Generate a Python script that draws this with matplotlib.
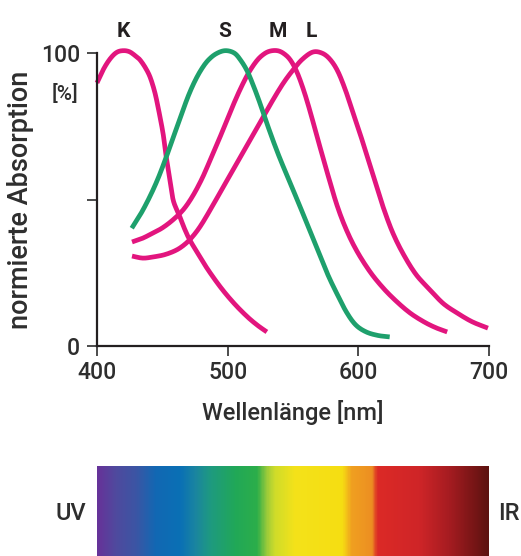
import numpy as np
import matplotlib
matplotlib.use("Agg")
import matplotlib.pyplot as plt
from matplotlib.colors import LinearSegmentedColormap

plt.rcParams['font.family'] = ['Roboto', 'DejaVu Sans']
plt.rcParams['font.weight'] = 'medium'
plt.rcParams['axes.labelweight'] = 'medium'

# Absorption curves of the photoreceptors (wavelength in nm, normalised absorption in %)
k_nm = [400, 405, 410, 415, 420, 425, 430, 433, 437, 440.6, 444, 446.7, 450.5, 452.5,
        454.3, 456, 458.2, 461, 463.5, 467, 471, 478, 485, 495, 505, 515, 523, 530]
k_val = [89.8, 94.5, 98, 100.2, 100.8, 100.4, 98.8, 97.6, 95, 91.8, 87, 81.6, 72.7, 66,
         61, 56, 50, 46.5, 44, 40, 36.2, 31, 26, 19.8, 14.5, 10, 7, 4.8]

s_nm = [426.6, 434, 441, 447, 453, 459, 465, 470, 475, 480, 485, 491, 498,
        505, 510, 515, 520, 525, 530, 535, 540, 547, 555, 565, 576, 584, 591,
        598, 606, 615, 624]
s_val = [40.2, 45.5, 51.5, 57.5, 64.5, 72, 79.5, 85.5, 90.5, 94.5, 97.5, 99.7, 100.8,
         100, 97.5, 93.8, 88.5, 82.5, 76, 69.8, 64, 56.5, 48, 37, 25, 17.5, 11.5,
         7.2, 4.8, 3.6, 3.1]

m_nm = [426.8, 435, 442.9, 450, 458, 466, 473, 480, 486, 492, 498, 504, 510,
        516, 522, 527, 532, 538, 543, 548, 553, 558, 563, 568.4, 576, 583.7, 591,
        599, 609, 619, 629, 639.5, 650, 659, 668]
m_val = [35.5, 36.8, 38.6, 40.3, 43, 46.5, 51, 56.8, 62.8, 69, 75.5, 82, 88,
         93.2, 97.2, 99.4, 100.6, 100.8, 99.8, 97.6, 93.5, 87.5, 80.2, 71.5, 59.5, 48, 39.5,
         32.3, 25.3, 19.8, 15.3, 11.3, 8.3, 6.3, 4.8]

l_nm = [426.8, 435, 443, 452, 461, 468, 474, 480, 488, 496, 504, 512, 520,
        528, 536, 543, 550, 557, 565, 572, 578, 584, 590, 596, 602, 608, 614,
        619, 626, 634, 644, 655, 665, 675.5, 687, 699.2]
l_val = [30.7, 30, 30.4, 31.2, 32.8, 35, 37.8, 41.5, 47.5, 53.8, 60, 66.3, 72.5,
         78.8, 85, 90, 94.2, 97.8, 100.3, 100, 98, 94, 87.5, 79.5, 71.5, 63, 54.5,
         47.4, 39, 31.7, 24.5, 19.1, 14.5, 11.3, 8.3, 6.1]

# Curve names and where their labels sit (wavelength)
names = ['K', 'S', 'M', 'L']
name_nm = [420, 498, 538, 564]

x_ticks = [400, 500, 600, 700]
y_ticks = [0, 50, 100]
y_ticklabels = ['0', '', '100']

# Visible spectrum colour stops (wavelength in nm, colour)
spec_nm = [400, 413.8, 429, 444.4, 463.5, 475, 486.5, 505.6, 522.4, 530, 536, 551.5,
           588, 595, 610.5, 615, 647, 670, 700]
spec_col = ['#663399', '#4f4a9e', '#3c55a4', '#1268b3', '#0a70b5', '#1a85a0', '#1e9a80',
            '#21a858', '#2cae4a', '#9ccb3a', '#cfdc2a', '#f4e21a', '#f6de12', '#f0a020',
            '#ed8f22', '#dc2a26', '#cf2528', '#a61c21', '#5e1210']

PINK = '#e2157e'
GREEN = '#1ea06c'
AXC = '#231f20'
TXT = '#2e2e2e'


def smooth_path(xs, ys, n=12):
    """Catmull-Rom path through the given points, for drawing only."""
    p = np.column_stack([xs, ys]).astype(float)
    p = np.vstack([2 * p[0] - p[1], p, 2 * p[-1] - p[-2]])
    out = [p[1]]
    for i in range(1, len(p) - 2):
        p0, p1, p2, p3 = p[i - 1], p[i], p[i + 1], p[i + 2]
        t = np.linspace(0, 1, n + 1)[1:, None]
        seg = 0.5 * ((2 * p1) + (-p0 + p2) * t + (2 * p0 - 5 * p1 + 4 * p2 - p3) * t ** 2
                     + (-p0 + 3 * p1 - 3 * p2 + p3) * t ** 3)
        out.extend(seg)
    out = np.array(out)
    return out[:, 0], out[:, 1]


W, H = 521, 556
fig = plt.figure(figsize=(W / 100, H / 100), dpi=100)

ax = fig.add_axes([97 / W, (H - 346) / H, 392 / W, 293 / H])
ax.set_xlim(400, 700)
ax.set_ylim(0, 100)

lw = 3.4
for xs, ys, c in [(k_nm, k_val, PINK), (l_nm, l_val, PINK), (m_nm, m_val, PINK),
                  (s_nm, s_val, GREEN)]:
    sx, sy = smooth_path(xs, ys)
    ax.plot(sx, sy, color=c, lw=lw, solid_capstyle='butt', solid_joinstyle='round',
            clip_on=False)

for n, x in zip(names, name_nm):
    ax.text(x, 107.5, n, ha='center', va='center', fontsize=15, fontweight='bold',
            color=AXC, clip_on=False)

for side in ['top', 'right']:
    ax.spines[side].set_visible(False)
for side in ['left', 'bottom']:
    ax.spines[side].set_linewidth(1.6)
    ax.spines[side].set_color(AXC)

ax.set_xticks(x_ticks)
ax.set_yticks(y_ticks)
ax.set_yticklabels(y_ticklabels)
ax.tick_params(direction='out', length=7, width=1.2, colors=TXT, labelsize=16.5, pad=4)
ax.tick_params(axis='y', pad=5)

ax.text(-0.048, 0.86, '[%]', transform=ax.transAxes, ha='right', va='center',
        fontsize=15, color=TXT)

ax.set_xlabel('Wellenlänge [nm]', fontsize=17, color=TXT, labelpad=11)
ax.set_ylabel('normierte Absorption', fontsize=19.5, color=TXT)
ax.yaxis.set_label_coords(-(97 - 34) / 392, 0.5)

# Spectrum bar
sax = fig.add_axes([97 / W, 0, 392 / W, 90 / H])
pos = [(v - 400) / 300 for v in spec_nm]
cmap = LinearSegmentedColormap.from_list('spectrum', list(zip(pos, spec_col)))
grad = np.linspace(0, 1, 600)[None, :]
sax.imshow(grad, cmap=cmap, aspect='auto', extent=[400, 700, 0, 1])
sax.set_xlim(400, 700)
sax.axis('off')

fig.text(71 / W, 1 - 514 / H, 'UV', ha='center', va='center', fontsize=17, color=TXT)
fig.text(498 / W, 1 - 514 / H, 'IR', ha='left', va='center', fontsize=17, color=TXT)

fig.savefig('out.png', dpi=100)
